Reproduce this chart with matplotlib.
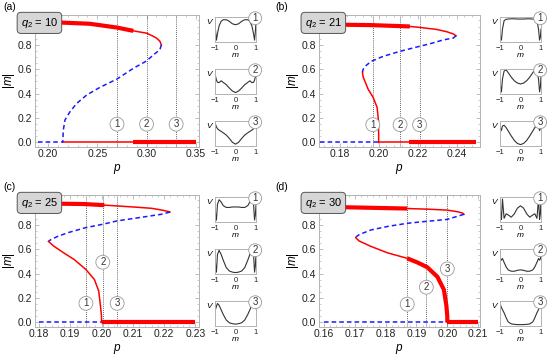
import matplotlib
matplotlib.use("Agg")
import matplotlib.pyplot as plt
from matplotlib.ticker import AutoMinorLocator

plt.rcParams["font.family"] = ["Liberation Sans", "DejaVu Sans"]
plt.rcParams["mathtext.fontset"] = "custom"
plt.rcParams["mathtext.rm"] = "Liberation Sans"
plt.rcParams["mathtext.it"] = "Liberation Sans:italic"

RED = "#ff0000"
BLUE = "#1a1aff"

# ---------------- panel (a), q2 = 10 ----------------
a_q2 = 10
a_xlim = (0.1868, 0.3532)
a_xticks = [0.20, 0.25, 0.30, 0.35]
a_up_thick_p = [0.19, 0.2105, 0.2426, 0.27, 0.2866]
a_up_thick_m = [0.99, 0.984, 0.973, 0.942, 0.915]
a_up_thin_p = [0.2866, 0.30, 0.3069, 0.3102, 0.3135, 0.315]
a_up_thin_m = [0.915, 0.896, 0.87, 0.855, 0.83, 0.80]
a_unst_p = [0.315, 0.3135, 0.3069, 0.30, 0.2866, 0.27, 0.2527, 0.2392, 0.2291,
            0.2223, 0.2172, 0.2155, 0.215]
a_unst_m = [0.80, 0.76, 0.718, 0.668, 0.608, 0.52, 0.452, 0.389, 0.32, 0.252,
            0.184, 0.101, 0.0]
a_low_thin_p, a_low_thin_m = [], []
a_low_thick_p, a_low_thick_m = [], []
a_zero_unst = [0.19, 0.215]
a_zero_thin = [0.215, 0.2866]
a_zero_thick = [0.2866, 0.35]
a_marks = [0.27, 0.30, 0.33]
a_marks_m = [0.15, 0.15, 0.15]

# ---------------- panel (b), q2 = 21 ----------------
b_q2 = 21
b_xlim = (0.1694, 0.252)
b_xticks = [0.18, 0.20, 0.22, 0.24]
b_up_thick_p = [0.17, 0.1963, 0.2109, 0.216]
b_up_thick_m = [0.968, 0.962, 0.954, 0.951]
b_up_thin_p = [0.216, 0.2212, 0.2297, 0.2349, 0.2383, 0.2397]
b_up_thin_m = [0.951, 0.943, 0.927, 0.908, 0.89, 0.875]
b_unst_p = [0.2397, 0.2383, 0.2332, 0.2263, 0.2194, 0.2109, 0.2023, 0.1963,
            0.1937, 0.1920, 0.1917]
b_unst_m = [0.875, 0.856, 0.841, 0.809, 0.782, 0.747, 0.706, 0.666, 0.633,
            0.598, 0.575]
b_low_thin_p = [0.1917, 0.1920, 0.1929, 0.1946, 0.1972, 0.1992, 0.1999, 0.2, 0.2]
b_low_thin_m = [0.575, 0.54, 0.504, 0.437, 0.369, 0.288, 0.181, 0.073, 0.0]
b_low_thick_p, b_low_thick_m = [], []
b_zero_unst = [0.17, 0.20]
b_zero_thin = [0.20, 0.2155]
b_zero_thick = [0.2155, 0.25]
b_marks = [0.197, 0.211, 0.221]
b_marks_m = [0.146, 0.146, 0.146]

# ---------------- panel (c), q2 = 25 ----------------
c_q2 = 25
c_xlim = (0.1787, 0.2312)
c_xticks = [0.18, 0.19, 0.20, 0.21, 0.22, 0.23]
c_up_thick_p = [0.18, 0.1945, 0.1998, 0.2009]
c_up_thick_m = [0.976, 0.971, 0.963, 0.962]
c_up_thin_p = [0.2009, 0.2052, 0.2106, 0.2160, 0.2192, 0.2213, 0.2219]
c_up_thin_m = [0.962, 0.955, 0.946, 0.936, 0.922, 0.910, 0.905]
c_unst_p = [0.2219, 0.2192, 0.2127, 0.2050, 0.2004, 0.1950, 0.1891, 0.1859,
            0.1837, 0.1830]
c_unst_m = [0.905, 0.887, 0.862, 0.833, 0.805, 0.778, 0.735, 0.705, 0.678, 0.664]
c_low_thin_p = [0.1830, 0.1848, 0.1880, 0.1913, 0.1950, 0.1977, 0.1991,
                0.1996, 0.20, 0.20]
c_low_thin_m = [0.664, 0.624, 0.569, 0.515, 0.434, 0.353, 0.258, 0.149, 0.05, 0.0]
c_low_thick_p, c_low_thick_m = [], []
c_zero_unst = [0.18, 0.20]
c_zero_thin = []
c_zero_thick = [0.20, 0.23]
c_marks = [0.195, 0.2004, 0.205]
c_marks_m = [0.157, 0.494, 0.157]

# ---------------- panel (d), q2 = 30 ----------------
d_q2 = 30
d_xlim = (0.1584, 0.2106)
d_xticks = [0.16, 0.17, 0.18, 0.19, 0.20, 0.21]
d_up_thick_p = [0.16, 0.1660, 0.1870]
d_up_thick_m = [0.947, 0.945, 0.934]
d_up_thin_p = [0.1870, 0.1935, 0.2000, 0.2033, 0.2049, 0.2054]
d_up_thin_m = [0.934, 0.929, 0.921, 0.908, 0.897, 0.887]
d_unst_p = [0.2054, 0.2000, 0.1932, 0.1870, 0.1806, 0.1752, 0.1714, 0.1706, 0.1703]
d_unst_m = [0.887, 0.845, 0.829, 0.813, 0.787, 0.758, 0.72, 0.705, 0.695]
d_low_thin_p = [0.1703, 0.1714, 0.1752, 0.1806, 0.1870]
d_low_thin_m = [0.695, 0.668, 0.624, 0.571, 0.526]
d_low_thick_p = [0.1870, 0.1903, 0.1935, 0.1968, 0.1989, 0.1997, 0.20, 0.20]
d_low_thick_m = [0.526, 0.492, 0.453, 0.374, 0.268, 0.137, 0.05, 0.0]
d_zero_unst = [0.16, 0.20]
d_zero_thin = []
d_zero_thick = [0.20, 0.21]
d_marks = [0.187, 0.1932, 0.20]
d_marks_m = [0.15, 0.289, 0.439]

# ---------------- potential insets V(m) ----------------
v_m = [-1.0, -0.97, -0.93, -0.88, -0.8, -0.7, -0.6, -0.45, -0.3, -0.15, 0.0,
       0.15, 0.3, 0.45, 0.6, 0.7, 0.8, 0.88, 0.93, 0.97, 1.0]
a_V1 = [0.85, 0.4, 0.02, 0.3, 0.65, 0.85, 0.92, 0.92, 0.85, 0.74, 0.7,
        0.74, 0.85, 0.92, 0.92, 0.85, 0.65, 0.3, 0.02, 0.4, 0.85]
a_V2 = [0.95, 0.7, 0.55, 0.45, 0.44, 0.52, 0.45, 0.35, 0.2, 0.07, 0.0,
        0.07, 0.2, 0.35, 0.45, 0.52, 0.44, 0.45, 0.55, 0.7, 0.95]
a_V3 = [1.0, 0.88, 0.78, 0.7, 0.64, 0.58, 0.52, 0.42, 0.27, 0.1, 0.02,
        0.1, 0.27, 0.42, 0.52, 0.58, 0.64, 0.7, 0.78, 0.88, 1.0]
b_V1 = [0.5, 0.15, 0.02, 0.5, 0.88, 0.94, 0.95, 0.96, 0.96, 0.95, 0.95,
        0.95, 0.96, 0.96, 0.95, 0.94, 0.88, 0.5, 0.02, 0.15, 0.5]
b_V2 = [0.7, 0.25, 0.03, 0.6, 0.95, 1.0, 0.88, 0.68, 0.52, 0.42, 0.38,
        0.42, 0.52, 0.68, 0.88, 1.0, 0.95, 0.6, 0.03, 0.25, 0.7]
b_V3 = [1.0, 0.7, 0.62, 0.82, 0.85, 0.75, 0.6, 0.38, 0.18, 0.05, 0.0,
        0.05, 0.18, 0.38, 0.6, 0.75, 0.85, 0.82, 0.62, 0.7, 1.0]
c_V1 = [0.7, 0.25, 0.02, 0.72, 0.92, 0.82, 0.66, 0.58, 0.58, 0.6, 0.6,
        0.6, 0.58, 0.58, 0.66, 0.82, 0.92, 0.72, 0.02, 0.25, 0.7]
c_V2 = [0.85, 0.3, 0.02, 0.8, 0.98, 0.8, 0.55, 0.22, 0.07, 0.02, 0.0,
        0.02, 0.07, 0.22, 0.55, 0.8, 0.98, 0.8, 0.02, 0.3, 0.85]
c_V3 = [0.95, 0.7, 0.8, 0.93, 0.85, 0.65, 0.45, 0.2, 0.08, 0.04, 0.02,
        0.04, 0.08, 0.2, 0.45, 0.65, 0.85, 0.93, 0.8, 0.7, 0.95]
d_V1 = [1.0, 0.3, 0.05, 0.95, 0.1, 0.3, 0.25, 0.15, 0.3, 0.55, 0.65,
        0.55, 0.3, 0.15, 0.25, 0.3, 0.1, 0.95, 0.05, 0.3, 1.0]
d_V2 = [0.95, 0.6, 0.55, 0.62, 0.45, 0.25, 0.12, 0.06, 0.06, 0.1, 0.12,
        0.1, 0.06, 0.06, 0.12, 0.25, 0.45, 0.62, 0.55, 0.6, 0.95]
d_V3 = [0.95, 0.85, 0.75, 0.66, 0.52, 0.3, 0.12, 0.03, 0.01, 0.0, 0.0,
        0.0, 0.01, 0.03, 0.12, 0.3, 0.52, 0.66, 0.75, 0.85, 0.95]

panels = [
    dict(tag="(a)", col=0, row=0, q2=a_q2, xlim=a_xlim, xticks=a_xticks,
         up_thick=(a_up_thick_p, a_up_thick_m), up_thin=(a_up_thin_p, a_up_thin_m),
         unst=(a_unst_p, a_unst_m), low_thin=(a_low_thin_p, a_low_thin_m),
         low_thick=(a_low_thick_p, a_low_thick_m), zero_unst=a_zero_unst,
         zero_thin=a_zero_thin, zero_thick=a_zero_thick,
         marks=a_marks, marks_m=a_marks_m, V=[a_V1, a_V2, a_V3]),
    dict(tag="(b)", col=1, row=0, q2=b_q2, xlim=b_xlim, xticks=b_xticks,
         up_thick=(b_up_thick_p, b_up_thick_m), up_thin=(b_up_thin_p, b_up_thin_m),
         unst=(b_unst_p, b_unst_m), low_thin=(b_low_thin_p, b_low_thin_m),
         low_thick=(b_low_thick_p, b_low_thick_m), zero_unst=b_zero_unst,
         zero_thin=b_zero_thin, zero_thick=b_zero_thick,
         marks=b_marks, marks_m=b_marks_m, V=[b_V1, b_V2, b_V3]),
    dict(tag="(c)", col=0, row=1, q2=c_q2, xlim=c_xlim, xticks=c_xticks,
         up_thick=(c_up_thick_p, c_up_thick_m), up_thin=(c_up_thin_p, c_up_thin_m),
         unst=(c_unst_p, c_unst_m), low_thin=(c_low_thin_p, c_low_thin_m),
         low_thick=(c_low_thick_p, c_low_thick_m), zero_unst=c_zero_unst,
         zero_thin=c_zero_thin, zero_thick=c_zero_thick,
         marks=c_marks, marks_m=c_marks_m, V=[c_V1, c_V2, c_V3]),
    dict(tag="(d)", col=1, row=1, q2=d_q2, xlim=d_xlim, xticks=d_xticks,
         up_thick=(d_up_thick_p, d_up_thick_m), up_thin=(d_up_thin_p, d_up_thin_m),
         unst=(d_unst_p, d_unst_m), low_thin=(d_low_thin_p, d_low_thin_m),
         low_thick=(d_low_thick_p, d_low_thick_m), zero_unst=d_zero_unst,
         zero_thin=d_zero_thin, zero_thick=d_zero_thick,
         marks=d_marks, marks_m=d_marks_m, V=[d_V1, d_V2, d_V3]),
]

W, H = 550, 359
fig = plt.figure(figsize=(W / 100, H / 100), dpi=100)


def px_axes(x0, y0, w, h):
    return fig.add_axes([x0 / W, 1 - (y0 + h) / H, w / W, h / H])


THICK, THIN = 3.0, 1.1
FRAME = "#b3b3b3"

for pn in panels:
    X0 = [35, 319][pn["col"]]
    Y0 = [0, 180][pn["row"]]
    ax = px_axes(X0, Y0 + 15, [164, 161][pn["col"]], 131.5)

    ax.plot(pn["zero_unst"], [0] * len(pn["zero_unst"]), color=BLUE, lw=1.1,
            dashes=(3, 2), zorder=3)
    if pn["zero_thin"]:
        ax.plot(pn["zero_thin"], [0, 0], color=RED, lw=THIN, zorder=3)
    ax.plot(pn["zero_thick"], [0, 0], color=RED, lw=THICK, zorder=3,
            solid_capstyle="butt")
    ax.plot(*pn["up_thick"], color=RED, lw=THICK, zorder=3, solid_capstyle="butt")
    ax.plot(*pn["up_thin"], color=RED, lw=THIN, zorder=3)
    ax.plot(*pn["unst"], color=BLUE, lw=1.1, dashes=(3, 2), zorder=3)
    if pn["low_thin"][0]:
        ax.plot(*pn["low_thin"], color=RED, lw=THIN, zorder=3)
    if pn["low_thick"][0]:
        ax.plot(*pn["low_thick"], color=RED, lw=THICK, zorder=3,
                solid_capstyle="butt")

    for k, (p, mm) in enumerate(zip(pn["marks"], pn["marks_m"])):
        ax.axvline(p, color="#333333", lw=0.6, ls=(0, (1, 1.5)), zorder=2)
        ax.text(p, mm, str(k + 1), ha="center", va="center", fontsize=7,
                color="#333333", zorder=6,
                bbox=dict(boxstyle="circle,pad=0.2", fc="white", ec="#999999",
                          lw=0.6))

    ax.set_xlim(*pn["xlim"])
    ax.set_ylim(-0.033, 1.045)
    ax.set_xticks(pn["xticks"])
    ax.set_xticklabels([f"{t:.2f}" for t in pn["xticks"]])
    ax.set_yticks([0.0, 0.2, 0.4, 0.6, 0.8])
    ax.set_yticklabels(["0.0", "0.2", "0.4", "0.6", "0.8"])
    ax.xaxis.set_minor_locator(AutoMinorLocator(5))
    ax.yaxis.set_minor_locator(AutoMinorLocator(4))
    ax.tick_params(which="both", direction="in", top=True, right=True,
                   color=FRAME, labelsize=7.5, labelcolor="#222222", pad=2)
    ax.tick_params(which="major", length=3, width=0.6)
    ax.tick_params(which="minor", length=1.5, width=0.5)
    for s in ax.spines.values():
        s.set_color(FRAME)
        s.set_linewidth(0.7)
    ax.set_xlabel("$p$", fontsize=8.5, labelpad=2)
    ax.set_ylabel("$|m|$", fontsize=8.5, labelpad=0.5)

    ax.text(0.027, 0.94, f"$q_2$ = {pn['q2']}", transform=ax.transAxes,
            ha="center", va="center", fontsize=8, zorder=7, clip_on=False,
            bbox=dict(boxstyle="round,pad=0.32,rounding_size=0.35",
                      fc="#d6d6d6", ec="#555555", lw=0.7))
    fig.text([3, 275][pn["col"]] / W, 1 - (Y0 + 7) / H,
             pn["tag"], fontsize=7.5, va="center", ha="left")

    IX = [215, 500][pn["col"]]
    for i, V in enumerate(pn["V"]):
        ia = px_axes(IX, Y0 + 17 + 52 * i, 41, 24.5)
        ia.plot(v_m, V, color="#333333", lw=0.8)
        ia.set_xlim(-1.0, 1.0)
        ia.set_ylim(-0.04, 1.04)
        ia.set_yticks([])
        ia.set_xticks([-1, 0, 1])
        ia.set_xticklabels(["\u22121", "0", "1"])
        ia.tick_params(axis="x", length=0, labelsize=5.5, pad=2.5,
                       labelcolor="#222222")
        for s in ia.spines.values():
            s.set_color(FRAME)
            s.set_linewidth(0.7)
        ia.set_xlabel("$m$", fontsize=6, labelpad=-0.5)
        ia.text(-0.11, 0.82, "$V$", transform=ia.transAxes, fontsize=6,
                ha="center", va="center")
        ia.text(0.98, 0.95, str(i + 1), transform=ia.transAxes, fontsize=7,
                ha="center", va="center", color="#333333", zorder=6,
                clip_on=False,
                bbox=dict(boxstyle="circle,pad=0.15", fc="white", ec="#999999",
                          lw=0.6))

fig.savefig("out.png", dpi=100)
